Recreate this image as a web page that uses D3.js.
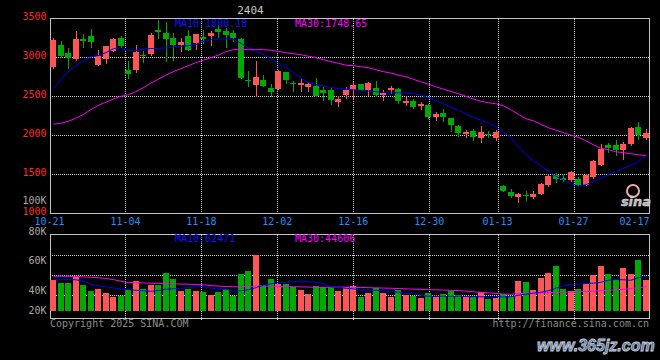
<!DOCTYPE html>
<html><head><meta charset="utf-8">
<script src="https://cdn.jsdelivr.net/npm/d3@7"></script>
<style>html,body{margin:0;padding:0;background:#000;}svg{display:block}</style>
</head><body><svg id="c" width="660" height="360"></svg>
<script>
const title = "2404";
const openP = [2872,3158,3055,2969,3226,3264,2892,2969,3072,3247, 2828,2828,3030,3038,3346,3308,3247,3158,3273,3183, 3260,3264,3363,3337,3311,3235,2709,2645,2709,2606, 2594,2812,2670,2636,2615,2632,2581,2581,2427,2508, 2572,2658,2581,2603,2513,2572,2585,2414,2440,2367, 2385,2231,2277,2222,2110,2008,2046,1966,2017,1957, 1341,1273,1205,1231,1209,1248,1359,1483,1453,1418, 1440,1363,1461,1619,1870,1878,1810,1888,2107,1966];
const highP = [3244,3209,3115,3337,3295,3363,3094,3140,3240,3273, 2953,3158,3081,3308,3478,3449,3308,3244,3350,3299, 3350,3329,3405,3372,3350,3244,2824,2953,2773,2654, 2837,2812,2696,2722,2674,2735,2611,2598,2495,2615, 2674,2658,2683,2696,2572,2623,2598,2482,2465,2427, 2397,2290,2337,2222,2132,2068,2077,2110,2055,2068, 1363,1312,1256,1286,1286,1389,1491,1513,1483,1542, 1457,1504,1675,1880,1900,1940,1905,2107,2171,2081];
const lowP = [2859,3017,2859,2960,3123,3123,2892,2923,3072,3123, 2731,2808,2936,3030,3244,2953,2966,3072,3094,3098, 3183,3158,3260,3123,3200,2726,2623,2500,2623,2495, 2594,2667,2559,2568,2559,2495,2453,2397,2367,2474, 2470,2572,2508,2495,2453,2538,2410,2380,2350,2337, 2222,2196,2175,2046,1991,1970,1931,1905,1975,1940, 1277,1205,1145,1171,1188,1239,1350,1393,1406,1410, 1355,1363,1453,1619,1780,1739,1696,1867,1944,1953];
const closeP = [3213,3017,2982,3226,3200,3196,3008,3136,3235,3145, 2786,3059,3013,3286,3320,3235,3158,3187,3094,3299, 3235,3303,3324,3286,3244,2726,2687,2747,2623,2546, 2815,2709,2662,2662,2649,2495,2534,2444,2462,2581, 2636,2572,2670,2517,2542,2598,2431,2440,2363,2392, 2235,2269,2226,2123,2021,2042,1970,2042,2000,2034, 1277,1222,1239,1218,1248,1376,1478,1440,1418,1526, 1363,1483,1662,1824,1833,1810,1880,2094,2004,2030];
const ma10 = [2594,2709,2812,2888,2953,3004,3017,3055,3106,3119, 3085,3085,3100,3108,3110,3115,3130,3139,3145,3160, 3200,3222,3231,3231,3228,3177,3119,3074,3030,2982, 2920,2869,2803,2726,2677,2645,2626,2610,2597,2587, 2581,2572,2564,2555,2546,2538,2542,2538,2529,2513, 2478,2440,2401,2356,2318,2273,2228,2190,2151,2106, 2040,1968,1850,1754,1673,1603,1539,1472,1427,1376, 1344,1363,1401,1446,1491,1530,1572,1610,1660,1730];
const ma30 = [2138,2150,2175,2215,2262,2325,2380,2420,2460,2495, 2517,2555,2606,2664,2715,2767,2812,2850,2888,2927, 2959,2991,3023,3068,3094,3094,3094,3094,3094,3087, 3072,3055,3042,3030,3010,2991,2965,2940,2920,2895, 2888,2876,2863,2837,2812,2795,2767,2747,2715,2683, 2651,2619,2587,2559,2529,2497,2459,2433,2414,2401, 2376,2324,2267,2209,2183,2138,2094,2062,2030,1998, 1972,1927,1876,1831,1812,1786,1773,1760,1747,1735];
const volume = [53400,48700,48700,59200,44700,34800,37800,31300,24400,26100, 36500,51700,37800,44700,44700,66100,55200,34800,38300,34800, 33100,27300,33100,39000,26100,64400,69100,97400,44700,55200, 47700,47700,42500,36500,29600,43000,41200,42500,34800,41200, 43000,24400,31300,40000,31300,24400,36500,27300,25600,22600, 31300,24400,29100,34800,27300,25600,24400,33100,20900,22600, 29100,25600,52200,50500,36000,57400,66100,78300,37800,34300, 37800,46500,62600,78300,64400,53900,74800,64400,88700,53900];
const volMa10 = [54600,54600,54600,54300,51700,46500,43800,42100,40000,38300, 37200,36000,35100,34300,35500,37800,38600,39500,40400,41800, 42100,39500,38300,37800,35100,35100,36900,40400,44700,47300, 49100,49900,50800,51200,50800,49900,47700,41800,41200,39500, 38600,36000,36000,36000,35100,34300,32500,30800,29900,27300, 25600,25600,25600,25600,25600,25100,24700,24700,24400,24400, 24400,24700,27300,29100,30800,32500,35100,39500,43800,45600, 46500,47700,48200,49900,53400,54600,54300,53400,57800,60400];
const volMa30 = [60400,60400,60400,59900,59200,58600,57800,56400,54600,51700, 49400,49100,48700,48200,47900,47500,47200,46800,46500,46100, 45600,44200,43300,42600,42100,41800,42600,43500,43300,43000, 42600,42500,42300,41900,41600,41200,40900,41600,41600,41400, 41200,40900,40500,40200,39800,39500,39000,38500,37900,37400, 37100,36700,36400,36000,35500,34600,33400,32500,31500,30500, 29400,29100,29900,30800,31100,31500,31800,32200,32500,32900, 33200,33900,34600,35300,36000,36900,37800,39000,40400,42100];
const dateLabels = ["10-21","11-04","11-18","12-02","12-16","12-30","01-13","01-27","02-17"];
const dateDayIndex = [0,10,20,30,40,50,59,69,78];
const priceTicks = [1000,1500,2000,2500,3000,3500];
const priceGrid = [1500,2000,2500,3000];
const volTickLabels = ["100K","80K","60K","40K","20K"];
const volTickValues = [100000,80000,60000,40000,20000];
const volGrid = [27800,62500,97300];
const priceLegend = ["MA10:1800.18","MA30:1748.65"];
const volLegend = ["MA10:62471","MA30:44606"];
const copyrightText = "Copyright 2025 SINA.COM";
const urlText = "http://finance.sina.com.cn";
const watermark = "www.365jz.com";

const UP = "#ff5555", DOWN = "#00aa00", GRIDC = "#cfcfcf", BORDER = "#c4c4c4";
const FONT = "'DejaVu Sans Mono', monospace";
const svg = d3.select("#c");
svg.append("rect").attr("width",660).attr("height",360).attr("fill","#000");

const n = closeP.length;
const xBand = d3.scaleBand().domain(d3.range(n)).range([49.5, 649.5]);
const xc = i => xBand(i) + xBand.bandwidth()/2;
const xDay = d3.scaleLinear().domain([0, 79]).range([49.5, 649.5]);
const y = d3.scaleLinear().domain([1000, 3500]).range([213, 18]);
const vY = d3.scaleLinear().domain([0, 132000]).range([311, 235]);
const vLabelY = d3.scaleLinear().domain(volTickValues.slice().reverse()).range([314, 294, 264, 234.5, 204]);
const crisp = v => Math.round(v) + 0.5;

// grids
const grid = svg.append("g").attr("stroke", GRIDC).attr("stroke-dasharray", "1,1").attr("stroke-width", 1);
priceGrid.forEach(p => grid.append("line").attr("x1", 50).attr("x2", 649).attr("y1", crisp(y(p))).attr("y2", crisp(y(p))));
volGrid.forEach(v => grid.append("line").attr("x1", 50).attr("x2", 649).attr("y1", crisp(vY(v))).attr("y2", crisp(vY(v))));
dateDayIndex.slice(1, 8).forEach(k => {
  const gx = crisp(xDay(k));
  grid.append("line").attr("x1", gx).attr("x2", gx).attr("y1", 19).attr("y2", 213);
  grid.append("line").attr("x1", gx).attr("x2", gx).attr("y1", 235).attr("y2", 320);
});

// borders
const bd = svg.append("g").attr("fill", "none").attr("stroke", BORDER).attr("stroke-width", 1);
bd.append("rect").attr("x", 50.5).attr("y", crisp(y(3500))).attr("width", 599).attr("height", y(1000) - y(3500));
bd.append("rect").attr("x", 50.5).attr("y", 234.5).attr("width", 599).attr("height", 84);

// clip
const defs = svg.append("defs");
defs.append("clipPath").attr("id","cp1").append("rect").attr("x",50).attr("y",18).attr("width",600).attr("height",196);
defs.append("clipPath").attr("id","cp2").append("rect").attr("x",50).attr("y",235).attr("width",600).attr("height",84);

// candles
const cg = svg.append("g").attr("clip-path","url(#cp1)");
d3.range(n).forEach(i => {
  const up = closeP[i] >= openP[i];
  const col = up ? UP : DOWN;
  const bx = Math.round(xc(i) - 3);
  const wx = bx + 3.5;
  cg.append("line").attr("x1", wx).attr("x2", wx)
    .attr("y1", Math.round(y(highP[i]))).attr("y2", Math.round(y(lowP[i])) + 1)
    .attr("stroke", col).attr("stroke-width", 1);
  const t = Math.round(y(Math.max(openP[i], closeP[i])));
  const b = Math.round(y(Math.min(openP[i], closeP[i])));
  cg.append("rect").attr("x", bx).attr("y", t).attr("width", 6).attr("height", Math.max(1, b - t)).attr("fill", col);
});
const line = d3.line().x((d, i) => xc(i)).y(d => y(d));
cg.append("path").attr("d", line(ma10)).attr("fill","none").attr("stroke","#0000ff").attr("stroke-width",1);
cg.append("path").attr("d", line(ma30)).attr("fill","none").attr("stroke","#ff00ff").attr("stroke-width",1);

// volume
const vg = svg.append("g").attr("clip-path","url(#cp2)");
d3.range(n).forEach(i => {
  const up = closeP[i] >= openP[i];
  const bx = Math.round(xc(i) - 3);
  const t = Math.round(vY(volume[i]));
  vg.append("rect").attr("x", bx).attr("y", t).attr("width", 6).attr("height", vY(0) - t).attr("fill", up ? UP : DOWN);
});
const vline = d3.line().x((d, i) => xc(i)).y(d => vY(d));
vg.append("path").attr("d", vline(volMa30)).attr("fill","none").attr("stroke","#ff00ff").attr("stroke-width",1);
vg.append("path").attr("d", vline(volMa10)).attr("fill","none").attr("stroke","#0000ff").attr("stroke-width",1);

// texts
const tx = svg.append("g").attr("font-family", FONT).attr("font-size", 10);
priceTicks.forEach(p => tx.append("text").attr("x", 46.5).attr("y", y(p) + 2).attr("text-anchor","end").attr("fill","#ff2a2a").text(p));
volTickLabels.forEach((l, k) => tx.append("text").attr("x", 46.5).attr("y", vLabelY(volTickValues[k])).attr("text-anchor","end").attr("fill","#a8a8a8").text(l));
dateLabels.forEach((l, k) => {
  let cx = xDay(dateDayIndex[k]);
  cx = Math.min(cx, 649.5 - 15);
  tx.append("text").attr("x", cx).attr("y", 225).attr("text-anchor","middle").attr("fill","#1e8fff").text(l);
});
tx.append("text").attr("x", 175).attr("y", 27.3).attr("fill","#1010ff").text(priceLegend[0]);
tx.append("text").attr("x", 295).attr("y", 27.3).attr("fill","#ff00ff").text(priceLegend[1]);
tx.append("text").attr("x", 175).attr("y", 241.8).attr("fill","#1010ff").text(volLegend[0]);
tx.append("text").attr("x", 295).attr("y", 241.8).attr("fill","#ff00ff").text(volLegend[1]);
tx.append("text").attr("x", 50).attr("y", 326.5).attr("fill","#8c8c8c").text(copyrightText);
tx.append("text").attr("x", 649).attr("y", 326.5).attr("text-anchor","end").attr("fill","#8c8c8c").text(urlText);
tx.append("text").attr("x", 250.5).attr("y", 14).attr("text-anchor","middle").attr("fill","#c8c8c8").attr("font-size", 11).text(title);

// sina logo watermark
const lg = svg.append("g");
lg.append("circle").attr("cx", 633).attr("cy", 191).attr("r", 6).attr("fill","none").attr("stroke","#f0a8a8").attr("stroke-width",2);
lg.append("text").attr("x", 636).attr("y", 206).attr("text-anchor","middle").attr("font-family","'DejaVu Sans', sans-serif")
  .attr("font-weight","bold").attr("font-style","italic").attr("font-size", 13).attr("fill","#b8b8b8").attr("stroke","#e8e8e8").attr("stroke-width",0.4).text("sina");

// 365jz watermark
svg.append("text").attr("x", 537).attr("y", 351).attr("font-family","'Liberation Sans', Arial, sans-serif").attr("font-weight","bold")
  .attr("font-style","italic").attr("font-size", 16)
  .attr("fill","#52709c").attr("stroke","#c9d2de").attr("stroke-width",0.8).text(watermark);
</script></body></html>
